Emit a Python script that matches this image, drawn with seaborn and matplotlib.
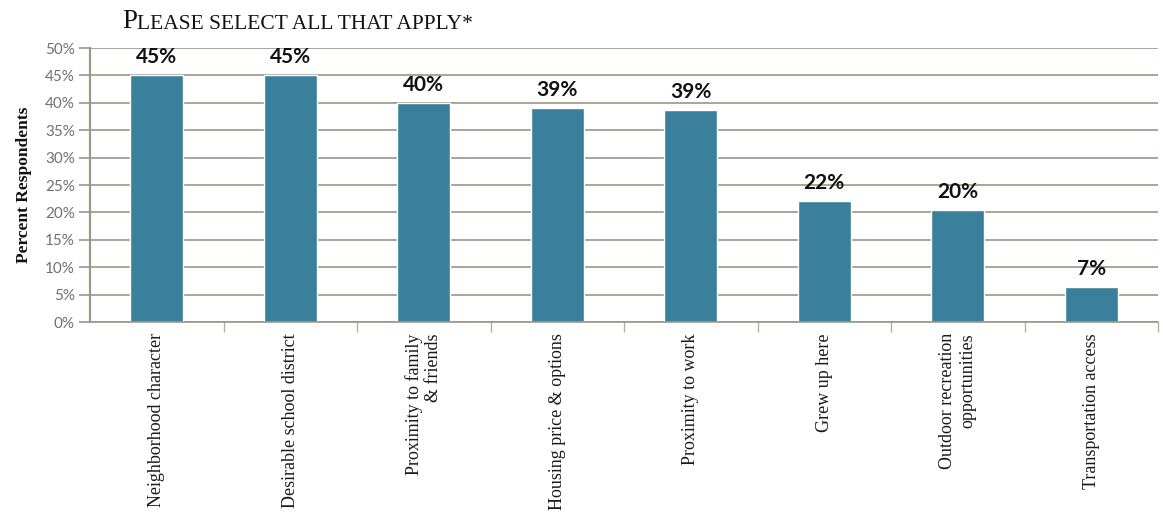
import matplotlib
matplotlib.use("Agg")
import matplotlib.pyplot as plt
import seaborn as sns
import pandas as pd

# Survey answers (percent of respondents)
categories = [
    "Neighborhood character",
    "Desirable school district",
    "Proximity to family\n& friends",
    "Housing price & options",
    "Proximity to work",
    "Grew up here",
    "Outdoor recreation\nopportunities",
    "Transportation access",
]
values = [45.0, 45.0, 39.9, 39.0, 38.7, 22.1, 20.4, 6.4]
labels = ["45%", "45%", "40%", "39%", "39%", "22%", "20%", "7%"]
yticks = [0, 5, 10, 15, 20, 25, 30, 35, 40, 45, 50]

df = pd.DataFrame({"reason": categories, "pct": values})

sns.set_theme(style="white")
grid_col = "#9c9785"
bar_col = "#3a7f9c"

fig = plt.figure(figsize=(11.63, 5.26), dpi=100)
ax = fig.add_axes([0.0774, 0.3878, 0.9183, 0.5209])

sns.barplot(data=df, x="reason", y="pct", color=bar_col, width=0.4,
            saturation=1, ax=ax, zorder=2)

ax.set_ylim(0, 50)
ax.set_xlim(-0.5, len(categories) - 0.5)
ax.set_yticks(yticks)
ax.set_yticklabels([f"{t}%" for t in yticks])
for tl in ax.get_yticklabels():
    tl.set_family("Lato")
    tl.set_fontsize(11)
    tl.set_color("#707070")
ax.yaxis.grid(True, color=grid_col, linewidth=1.2, zorder=0)
ax.set_axisbelow(True)
ax.tick_params(axis="y", left=True, length=8, width=1.2, color=grid_col, pad=3)

# category labels, ticks between categories
ax.set_xticks(range(len(categories)))
ax.set_xticklabels(categories, rotation=90, family="Liberation Serif", fontsize=13,
                   color="#1a1a1a", va="top", ha="center", multialignment="right")
ax.set_xticks([i + 0.5 for i in range(len(categories))], minor=True)
ax.tick_params(axis="x", which="major", bottom=False, pad=2)
ax.tick_params(axis="x", which="minor", bottom=True, length=7, width=1, color="#b5b1a3")

for s in ["top", "right"]:
    ax.spines[s].set_visible(False)
ax.spines["left"].set_color(grid_col)
ax.spines["left"].set_linewidth(1.6)
ax.spines["bottom"].set_color(grid_col)
ax.spines["bottom"].set_linewidth(1.2)

ax.set_xlabel("")
ax.set_ylabel("Percent Respondents", family="Liberation Serif", fontweight="bold",
              fontsize=12.5, color="#111111", labelpad=9)

for i, (v, lab) in enumerate(zip(values, labels)):
    ax.annotate(lab, (i, v), xytext=(0, 6), textcoords="offset points",
                ha="center", va="bottom", family="Lato", fontweight="bold",
                fontsize=15, color="#111111")

# small caps style title
t1 = fig.text(0.105, 0.947, "P", family="Liberation Serif", fontsize=19.5, color="#111111",
              va="baseline")
fig.canvas.draw()
ax.annotate("LEASE SELECT ALL THAT APPLY*", xy=(1, 0), xycoords=t1, va="bottom",
            family="Liberation Serif", fontsize=15.5, color="#111111")

fig.savefig("out.png", dpi=100)
